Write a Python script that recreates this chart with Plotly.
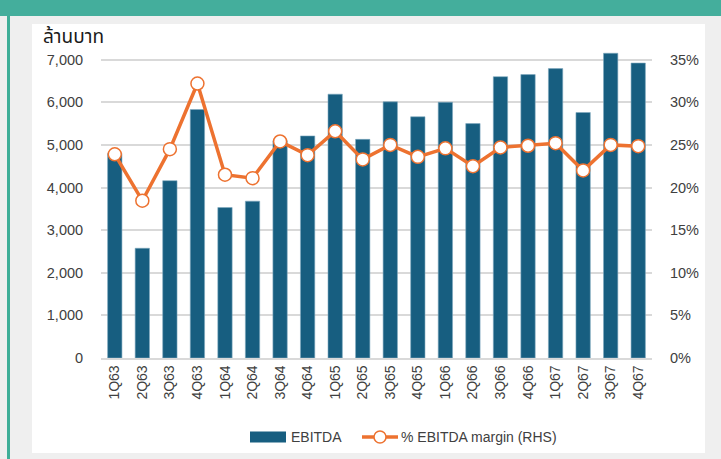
import plotly.graph_objects as go

quarters = ["1Q63","2Q63","3Q63","4Q63","1Q64","2Q64","3Q64","4Q64","1Q65","2Q65",
            "3Q65","4Q65","1Q66","2Q66","3Q66","4Q66","1Q67","2Q67","3Q67","4Q67"]
ebitda = [4800, 2575, 4160, 5830, 3530, 3680, 5100, 5210, 6190, 5130,
          6010, 5660, 6000, 5500, 6600, 6650, 6790, 5760, 7150, 6920]
margin = [23.9, 18.45, 24.5, 32.2, 21.5, 21.1, 25.4, 23.8, 26.6, 23.3,
          25.0, 23.6, 24.6, 22.5, 24.7, 24.9, 25.2, 22.0, 25.0, 24.85]
left_ticks = [0, 1000, 2000, 3000, 4000, 5000, 6000, 7000]
right_ticks = [0, 5, 10, 15, 20, 25, 30, 35]

W, H = 721, 459
L, R, T, B = 101, 652, 49, 358
YMAX = 7250
BAR_COLOR = "#175e80"
LINE_COLOR = "#ed7230"
TXT = "#404040"
FONT = "Liberation Sans, Arial, sans-serif"

def px(x):
    return (x - L) / (R - L)

def py(y):
    return (B - y) / (B - T)

fig = go.Figure()
fig.add_trace(go.Bar(
    x=quarters, y=ebitda, name="EBITDA",
    marker=dict(color=BAR_COLOR, line=dict(color="#7fa9c0", width=0.6)),
    yaxis="y", showlegend=False,
))
fig.add_trace(go.Scatter(
    x=quarters, y=margin, name="% EBITDA margin (RHS)", mode="lines+markers",
    line=dict(color=LINE_COLOR, width=3.5),
    marker=dict(size=13, color="white", line=dict(color=LINE_COLOR, width=1.5)),
    yaxis="y2", showlegend=False,
))

LEG_Y = 437
shapes = [
    dict(type="rect", xref="paper", yref="paper", x0=px(0), x1=px(W), y0=py(0), y1=py(16),
         fillcolor="#44ae9c", line=dict(width=0), layer="below"),
    dict(type="rect", xref="paper", yref="paper", x0=px(7), x1=px(10), y0=py(16), y1=py(H),
         fillcolor="#3fae98", line=dict(width=0), layer="below"),
    dict(type="rect", xref="paper", yref="paper", x0=px(32), x1=px(705), y0=py(24), y1=py(453),
         fillcolor="white", line=dict(width=0), layer="below"),
    # legend swatches
    dict(type="rect", xref="paper", yref="paper", x0=px(250), x1=px(286), y0=py(LEG_Y - 5.5),
         y1=py(LEG_Y + 5.5), fillcolor=BAR_COLOR, line=dict(width=0)),
    dict(type="line", xref="paper", yref="paper", x0=px(362), x1=px(398), y0=py(LEG_Y),
         y1=py(LEG_Y), line=dict(color=LINE_COLOR, width=3.5)),
    dict(type="circle", xref="paper", yref="paper", x0=px(380 - 6), x1=px(380 + 6),
         y0=py(LEG_Y - 6), y1=py(LEG_Y + 6), fillcolor="white",
         line=dict(color=LINE_COLOR, width=1.5)),
]

annotations = [
    dict(text="ล้านบาท", xref="paper", yref="paper", x=px(41), y=py(37),
         xanchor="left", yanchor="middle", showarrow=False,
         font=dict(size=19, color="#1a1a1a",
                   family="Tahoma, Noto Sans Thai, Liberation Sans, sans-serif")),
    dict(text="EBITDA", xref="paper", yref="paper", x=px(289), y=py(LEG_Y),
         xanchor="left", yanchor="middle", showarrow=False,
         font=dict(size=14, color=TXT, family=FONT)),
    dict(text="% EBITDA margin (RHS)", xref="paper", yref="paper", x=px(399), y=py(LEG_Y),
         xanchor="left", yanchor="middle", showarrow=False,
         font=dict(size=14, color=TXT, family=FONT)),
]

fig.update_layout(
    width=W, height=H,
    margin=dict(l=L, r=W - R, t=T, b=H - B, autoexpand=False),
    paper_bgcolor="#efefef", plot_bgcolor="rgba(0,0,0,0)",
    font=dict(family=FONT, color=TXT, size=13),
    bargap=0.48,
    shapes=shapes,
    annotations=annotations,
    showlegend=False,
    xaxis=dict(range=[-0.5, len(quarters) - 0.5], tickangle=-90,
               tickfont=dict(size=14, color=TXT), showgrid=False,
               showline=True, linecolor="#d9d9d9", linewidth=1.5, ticks="",
               automargin=False),
    yaxis=dict(range=[0, YMAX], tickvals=left_ticks, tickformat=",d",
               showgrid=True, gridcolor="#d9d9d9", gridwidth=1.5, zeroline=False,
               tickfont=dict(size=14.5, color=TXT), ticks="outside", ticklen=14,
               tickcolor="rgba(0,0,0,0)", automargin=False),
    yaxis2=dict(range=[0, 35 * YMAX / 7000], tickvals=right_ticks,
                ticktext=[f"{v}%" for v in right_ticks], overlaying="y", side="right",
                showgrid=False, zeroline=False, tickfont=dict(size=14.5, color=TXT),
                ticks="outside", ticklen=14, tickcolor="rgba(0,0,0,0)", automargin=False),
)

fig.write_html("out.html", config={"displayModeBar": False},
               post_script="document.body.style.margin='0';document.body.style.overflow='hidden';")
